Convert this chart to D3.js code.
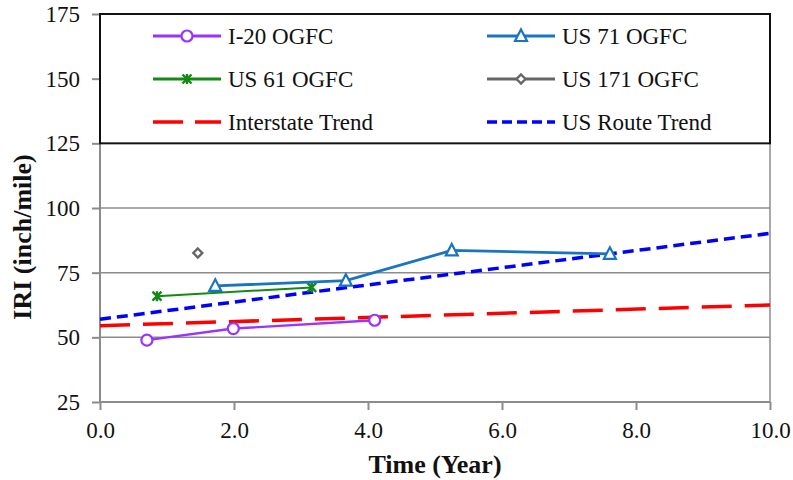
<!DOCTYPE html>
<html><head><meta charset="utf-8">
<script src="https://cdn.jsdelivr.net/npm/d3@7"></script>
<style>body{margin:0;background:#fff}svg{display:block}</style>
</head><body>
<svg id="c" width="793" height="480"></svg>
<script>
const i20X = [0.70, 1.99, 4.10];
const i20Y = [48.9, 53.4, 56.6];
const us61X = [0.85, 3.16];
const us61Y = [65.9, 69.3];
const us71X = [1.72, 3.67, 5.25, 7.61];
const us71Y = [69.9, 71.9, 83.6, 82.3];
const us171X = [1.46];
const us171Y = [82.6];
const trendX = [0, 10];
const interstateY = [54.5, 62.5];
const usRouteY = [57.0, 90.2];
const xTicks = [0, 2, 4, 6, 8, 10];
const yTicks = [25, 50, 75, 100, 125, 150, 175];

const svg = d3.select("#c");
const L = 100, R = 770, T = 14, B = 402;
const x = d3.scaleLinear().domain([0, 10]).range([L, R]);
const y = d3.scaleLinear().domain([25, 175]).range([B, T]);
const font = "'Liberation Serif','Times New Roman',serif";
const gray = "#8c8c8c";

// gridlines
svg.append("g").selectAll("line").data(yTicks.filter(d => d > 25 && d < 175)).join("line")
  .attr("x1", L).attr("x2", R).attr("y1", d => y(d)).attr("y2", d => y(d))
  .attr("stroke", gray).attr("stroke-width", 1.5);
// right border
svg.append("line").attr("x1", R).attr("x2", R).attr("y1", T).attr("y2", B).attr("stroke", gray).attr("stroke-width", 1.5);

// axes
const yAx = svg.append("g").attr("transform", `translate(${L},0)`)
  .call(d3.axisLeft(y).tickValues(yTicks).tickSize(8).tickPadding(12).tickFormat(d3.format("d")));
const xAx = svg.append("g").attr("transform", `translate(0,${B})`)
  .call(d3.axisBottom(x).tickValues(xTicks).tickSize(8).tickPadding(12).tickFormat(d3.format(".1f")));
[yAx, xAx].forEach(a => {
  a.attr("font-family", null).attr("font-size", null);
  a.selectAll("path,line").attr("stroke", gray).attr("stroke-width", 2);
  a.selectAll("text").style("font-family", font).style("font-size", "23px").attr("fill", "#111");
});
xAx.select(".domain").attr("d", `M${L},0H${R}`);
yAx.select(".domain").attr("d", `M0,${B}V${T}`);

// trends
const trend = (ys, color, dash) => svg.append("path")
  .datum(trendX.map((d, i) => [d, ys[i]]))
  .attr("d", d3.line().x(d => x(d[0])).y(d => y(d[1])))
  .attr("fill", "none").attr("stroke", color).attr("stroke-width", 3.5).attr("stroke-dasharray", dash);

// series
function series(xs, ys, color, marker, width) {
  const pts = xs.map((d, i) => [d, ys[i]]);
  if (pts.length > 1) svg.append("path").datum(pts)
    .attr("d", d3.line().x(d => x(d[0])).y(d => y(d[1])))
    .attr("fill", "none").attr("stroke", color).attr("stroke-width", width);
  pts.forEach(p => drawMarker(svg, x(p[0]), y(p[1]), marker, color));
}
function drawMarker(g, cx, cy, m, color) {
  if (m === "circle") g.append("circle").attr("cx", cx).attr("cy", cy).attr("r", 5.5)
    .attr("fill", "#fff").attr("stroke", color).attr("stroke-width", 2.2);
  if (m === "triangle") g.append("path").attr("d", `M${cx},${cy-6.5}L${cx+6},${cy+5}L${cx-6},${cy+5}Z`)
    .attr("fill", "#fff").attr("stroke", color).attr("stroke-width", 2.2);
  if (m === "star") {
    const s = 4.5;
    g.append("path").attr("d", `M${cx-s},${cy-s}L${cx+s},${cy+s}M${cx+s},${cy-s}L${cx-s},${cy+s}M${cx},${cy-s-0.5}V${cy+s+0.5}`)
      .attr("stroke", color).attr("stroke-width", 2.4);
  }
  if (m === "diamond") g.append("path").attr("d", `M${cx},${cy-4.5}L${cx+4.5},${cy}L${cx},${cy+4.5}L${cx-4.5},${cy}Z`)
    .attr("fill", "#fff").attr("stroke", color).attr("stroke-width", 2.4);
}

trend(interstateY, "#ff0000", "30,13");
trend(usRouteY, "#0000ff", "11,6");
series(i20X, i20Y, "#9933ff", "circle", 2.4);
series(us61X, us61Y, "#138a13", "star", 2);
series(us71X, us71Y, "#1a75c0", "triangle", 2.8);
series(us171X, us171Y, "#666666", "diamond", 2);

// legend
const lg = svg.append("g");
lg.append("rect").attr("x", L).attr("y", T).attr("width", R - L).attr("height", y(125) - T)
  .attr("fill", "#fff").attr("stroke", "#111").attr("stroke-width", 2);
const legendItems = [
  {name: "I-20 OGFC", color: "#9933ff", marker: "circle", col: 0, row: 0},
  {name: "US 71 OGFC", color: "#1a75c0", marker: "triangle", col: 1, row: 0},
  {name: "US 61 OGFC", color: "#138a13", marker: "star", col: 0, row: 1},
  {name: "US 171 OGFC", color: "#666666", marker: "diamond", col: 1, row: 1},
  {name: "Interstate Trend", color: "#ff0000", dash: "30,12", col: 0, row: 2},
  {name: "US Route Trend", color: "#0000ff", dash: "10,5", col: 1, row: 2}
];
const colX = [153, 487], rowY = [36, 79, 122];
legendItems.forEach(it => {
  const x0 = colX[it.col], yy = rowY[it.row];
  if (it.dash) {
    lg.append("line").attr("x1", x0).attr("x2", x0 + 68).attr("y1", yy).attr("y2", yy)
      .attr("stroke", it.color).attr("stroke-width", 3.5).attr("stroke-dasharray", it.dash);
  } else {
    lg.append("line").attr("x1", x0).attr("x2", x0 + 68).attr("y1", yy).attr("y2", yy)
      .attr("stroke", it.color).attr("stroke-width", 2.8);
    drawMarker(lg, x0 + 34, yy, it.marker, it.color);
  }
  lg.append("text").attr("x", x0 + 75).attr("y", yy).attr("dy", "0.35em")
    .style("font-family", font).style("font-size", "23px").attr("fill", "#111").text(it.name);
});

// titles
svg.append("text").attr("x", 435).attr("y", 473).attr("text-anchor", "middle")
  .style("font-family", font).style("font-size", "26px").attr("font-weight", "bold").attr("fill", "#111").text("Time (Year)");
svg.append("text").attr("transform", `translate(31,237) rotate(-90)`).attr("text-anchor", "middle")
  .style("font-family", font).style("font-size", "26px").attr("font-weight", "bold").attr("fill", "#111").text("IRI (inch/mile)");
</script>
</body></html>
